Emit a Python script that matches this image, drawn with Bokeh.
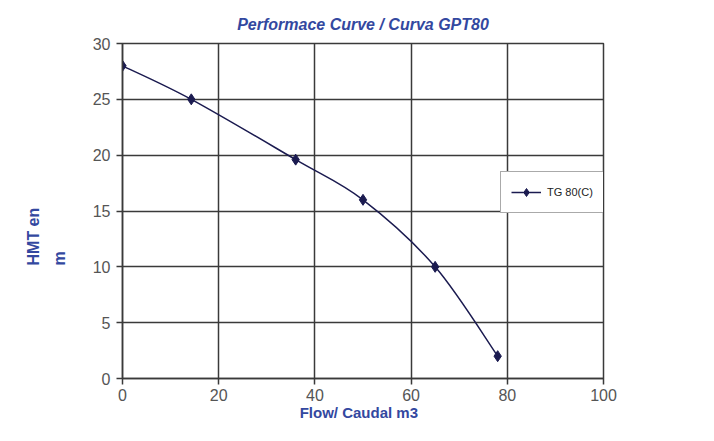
import numpy as np
from bokeh.plotting import figure
from bokeh.models import (ColumnDataSource, Legend, LegendItem, Range1d,
                          FixedTicker, Title)
from bokeh.embed import file_html
from bokeh.resources import INLINE

# ---- data ----
flow = [0, 14.3, 36, 50, 65, 78]
head = [28, 25, 19.6, 16, 10, 2]
series_name = "TG 80(C)"
x_ticks = [0, 20, 40, 60, 80, 100]
y_ticks = [0, 5, 10, 15, 20, 25, 30]
title_text = "Performace Curve / Curva GPT80"
x_label = "Flow/ Caudal   m3"
y_label = "HMT en\nm"

NAVY = "#1b1b50"
BLUE = "#3348a0"
GRID = "#3a3a3a"
TICK = "#555555"

p = figure(width=698, height=425, output_backend="svg", toolbar_location=None,
           x_range=Range1d(0, 100), y_range=Range1d(0, 30),
           min_border_left=120, min_border_right=95, min_border_top=43,
           min_border_bottom=47)
p.background_fill_color = "white"
p.border_fill_color = "white"
p.outline_line_color = GRID
p.outline_line_width = 1.5

p.title.text = title_text
p.title.align = "center"
p.title.standoff = 22
p.title.text_font = "Liberation Sans"
p.title.text_font_size = "16px"
p.title.text_font_style = "bold italic"
p.title.text_color = BLUE

for ax, ticks in ((p.xaxis[0], x_ticks), (p.yaxis[0], y_ticks)):
    ax.ticker = FixedTicker(ticks=ticks)
    ax.axis_line_color = GRID
    ax.axis_line_width = 1.5
    ax.major_tick_line_color = GRID
    ax.major_tick_line_width = 1.5
    ax.major_tick_out = 6
    ax.major_tick_in = 0
    ax.minor_tick_line_color = None
    ax.major_label_text_font = "Liberation Sans"
    ax.major_label_text_font_size = "16px"
    ax.major_label_text_color = TICK
p.xaxis.major_label_standoff = 4
p.yaxis.major_label_standoff = 6

p.xaxis.axis_label = x_label
p.xaxis.axis_label_standoff = 0
p.xaxis.axis_label_text_font = "Liberation Sans"
p.xaxis.axis_label_text_font_size = "15px"
p.xaxis.axis_label_text_font_style = "bold"
p.xaxis.axis_label_text_color = BLUE

p.xgrid.ticker = FixedTicker(ticks=x_ticks)
p.ygrid.ticker = FixedTicker(ticks=y_ticks)
p.grid.grid_line_color = GRID
p.grid.grid_line_width = 1.5

# smoothed curve (Catmull-Rom style Bezier segments through the data points)
xs = np.array(flow, dtype=float)
ys = np.array(head, dtype=float)
xp = np.concatenate([[xs[0]], xs, [xs[-1]]])
yp = np.concatenate([[ys[0]], ys, [ys[-1]]])
n = len(xs) - 1
cx0 = xs[:-1] + (xp[2:n + 2] - xp[0:n]) / 6
cy0 = ys[:-1] + (yp[2:n + 2] - yp[0:n]) / 6
cx1 = xs[1:] - (xp[3:n + 3] - xp[1:n + 1]) / 6
cy1 = ys[1:] - (yp[3:n + 3] - yp[1:n + 1]) / 6
bez_src = ColumnDataSource(dict(x0=xs[:-1], y0=ys[:-1], x1=xs[1:], y1=ys[1:],
                                cx0=cx0, cy0=cy0, cx1=cx1, cy1=cy1))
p.bezier(x0="x0", y0="y0", x1="x1", y1="y1", cx0="cx0", cy0="cy0",
         cx1="cx1", cy1="cy1", source=bez_src, line_color=NAVY, line_width=1.5)

pts = ColumnDataSource(dict(x=flow, y=head))
sc = p.scatter("x", "y", source=pts, marker="diamond", size=11,
               fill_color=NAVY, line_color=NAVY)
# single-point line: invisible on the plot, but gives the legend its line
leg_line = p.line(x=flow[:1], y=head[:1], line_color=NAVY, line_width=1.5)

legend = Legend(items=[LegendItem(label=series_name, renderers=[leg_line, sc])],
                location=(378, 165), margin=0, padding=10,
                glyph_width=30, label_standoff=6, spacing=0,
                label_text_font="Liberation Sans", label_text_font_size="11px",
                label_text_color="#222222", border_line_color="#555555",
                border_line_width=1.5, background_fill_color="white",
                background_fill_alpha=1.0)
p.add_layout(legend, "center")

# vertical axis title (two lines)
p.add_layout(Title(text=y_label, align="left", offset=113, standoff=44,
                   text_line_height=1.5,
                   text_font="Liberation Sans", text_font_size="16px",
                   text_font_style="bold", text_color=BLUE), "left")

open("out.html", "w").write(file_html(p, INLINE))
